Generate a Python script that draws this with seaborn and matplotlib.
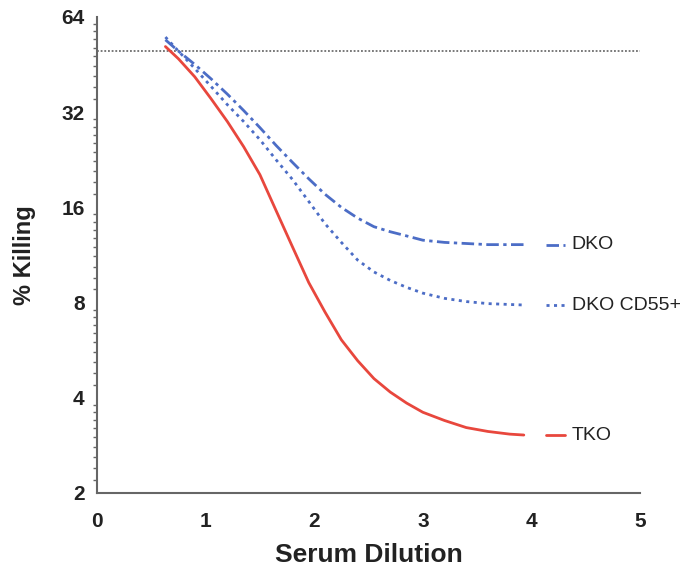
import numpy as np
import pandas as pd
import matplotlib
matplotlib.use("Agg")
import matplotlib.pyplot as plt
import matplotlib.ticker as mticker
import seaborn as sns

# ---- data ----
dilution = [0.63, 0.75, 0.90, 1.05, 1.20, 1.35, 1.50, 1.65, 1.80, 1.95, 2.10,
            2.25, 2.40, 2.55, 2.70, 2.85, 3.00, 3.20, 3.40, 3.60, 3.80, 3.93]
tko = [51.6, 47.2, 41.4, 35.3, 29.9, 24.9, 20.3, 15.6, 12.0, 9.25, 7.46,
       6.1, 5.24, 4.6, 4.17, 3.85, 3.6, 3.39, 3.22, 3.13, 3.07, 3.05]
dko = [54.2, 49.9, 45.3, 40.8, 36.5, 32.4, 28.6, 25.1, 22.2, 19.7, 17.6,
       16.0, 14.8, 13.9, 13.4, 13.0, 12.6, 12.4, 12.3, 12.2, 12.2, 12.2]
dko_cd55 = [55.3, 49.9, 44.0, 38.6, 33.8, 29.9, 26.2, 22.6, 19.6, 16.7, 14.2,
            12.4, 10.9, 10.0, 9.4, 8.94, 8.57, 8.25, 8.06, 7.94, 7.89, 7.86]
series_names = ["TKO", "DKO", "DKO CD55+"]
threshold = 50
y_ticks = [2, 4, 8, 16, 32, 64]
x_ticks = [0, 1, 2, 3, 4, 5]

df = pd.DataFrame({
    "Serum Dilution": dilution * 3,
    "% Killing": tko + dko + dko_cd55,
    "Strain": [series_names[0]] * len(dilution) + [series_names[1]] * len(dilution)
              + [series_names[2]] * len(dilution),
})

red = "#E8473D"
blue = "#4C6DC6"
palette = {"TKO": red, "DKO": blue, "DKO CD55+": blue}
dashes = {"TKO": "", "DKO": (4.5, 1.6, 1.2, 1.6), "DKO CD55+": (1.1, 1.6)}

sns.set_theme(style="white")
plt.rcParams["font.family"] = ["Liberation Sans", "DejaVu Sans"]

fig = plt.figure(figsize=(6.86, 5.66), dpi=100)
ax = fig.add_axes([0.1414, 0.129, 0.7916, 0.841])

sns.lineplot(data=df, x="Serum Dilution", y="% Killing", hue="Strain", style="Strain",
             palette=palette, dashes=dashes, linewidth=2.0, ax=ax, legend=False,
             sort=False)
for ln in ax.lines:
    ln.set_solid_joinstyle("round")

ax.axhline(threshold, color="#555555", linestyle=(0, (1.2, 1.2)), linewidth=1.1, zorder=0)

ax.set_yscale("log", base=2)
ax.set_ylim(2, 64)
ax.set_xlim(0, 5)
ax.set_yticks(y_ticks)
ax.set_yticklabels([str(v) for v in y_ticks])
ax.yaxis.set_minor_locator(mticker.LogLocator(base=2, subs=np.arange(1.1, 2.0, 0.1), numticks=100))
ax.yaxis.set_minor_formatter(mticker.NullFormatter())
ax.set_xticks(x_ticks)
ax.set_xticklabels([str(v) for v in x_ticks])

for s in ["top", "right"]:
    ax.spines[s].set_visible(False)
for s in ["left", "bottom"]:
    ax.spines[s].set_color("#666666")
    ax.spines[s].set_linewidth(1.5)

ax.tick_params(axis="both", which="major", direction="out", length=5, width=1.2,
               color="#666666", labelsize=15, pad=4)
ax.tick_params(axis="y", which="minor", direction="out", length=3, width=1.0,
               color="#666666", left=True)
ax.tick_params(axis="x", which="major", pad=9)
for lab in ax.get_xticklabels() + ax.get_yticklabels():
    lab.set_fontweight("bold")
    lab.set_color("#222222")

ax.set_xlabel("Serum Dilution", fontsize=19, fontweight="bold", color="#222222", labelpad=8)
ax.set_ylabel("% Killing", fontsize=17, fontweight="bold", color="#222222", labelpad=18)

# inline legend entries
label_y = {"DKO": dko[-1], "DKO CD55+": dko_cd55[-1], "TKO": tko[-1]}
for name in ["DKO", "DKO CD55+", "TKO"]:
    yv = label_y[name]
    d = dashes[name]
    ls = "-" if d == "" else (0, d)
    ax.plot([4.13, 4.31], [yv, yv], color=palette[name], linestyle=ls, linewidth=2.0,
            clip_on=False)
    ax.text(4.37, yv, name, fontsize=14, color="#222222", va="center", ha="left")

fig.savefig("out.png", dpi=100)
